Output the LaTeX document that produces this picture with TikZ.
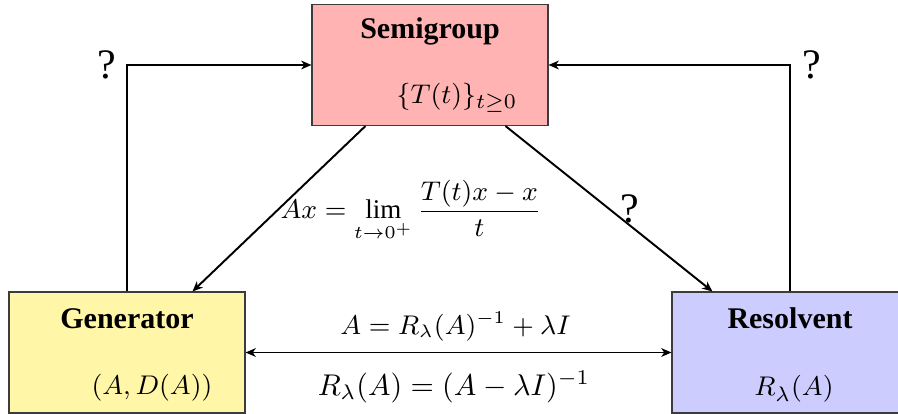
\documentclass[tikz,border=0pt]{standalone}
\usepackage{fontspec}
\setmainfont{Liberation Serif}
\usetikzlibrary{arrows.meta,calc}
\definecolor{sgcol}{RGB}{255,179,179}
\definecolor{gencol}{RGB}{255,246,168}
\definecolor{rescol}{RGB}{204,204,255}
\definecolor{bordcol}{RGB}{60,60,60}
\begin{document}
\begin{tikzpicture}[x=0.33333pt,y=-0.33333pt,
  box/.style={draw=bordcol,line width=0.35pt,minimum width=78.67pt,minimum height=40.33pt,inner sep=0pt},
  boxtitle/.style={font=\bfseries,inner sep=0pt},
  mathtxt/.style={inner sep=0pt,font=\fontsize{#1}{11}\selectfont},
  mathtxt/.default=9.2,
  qmark/.style={font=\fontsize{14}{16}\selectfont,inner sep=0pt},
  tip/.tip={Stealth[length=3.4pt,width=2.9pt,inset=1pt]},
  conn/.style={line width=0.65pt,-tip},
  conn2/.style={line width=0.65pt,tip-tip}]
\useasboundingbox (0,0) rectangle (898,414);
\clip (0,0) rectangle (898,414);
% boxes
\node[box,fill=sgcol] (sg) at (430,65) {};
\node[box,fill=gencol] (gen) at (127,352.5) {};
\node[box,fill=rescol] (res) at (790,352.5) {};
% texts in boxes
\node[boxtitle] (sgt) at (430,31) {Semigroup};
\node[mathtxt=9.5] (sgm) at (457,98) {$\{T(t)\}_{t\geq 0}$};
\node[boxtitle] (gent) at (127,318.5) {Generator};
\node[mathtxt=9] (genm) at (152,388) {$(A,D(A))$};
\node[boxtitle] (rest) at (790,318.5) {Resolvent};
\node[mathtxt=9.3] (resm) at (794,389) {$R_\lambda(A)$};
% corner points of diagonals
\coordinate (d1s) at ($(sg.south west)+(54,0)$);
\coordinate (d1e) at ($(gen.north west)+(184,0)$);
\coordinate (d2s) at ($(sg.south west)+(194,0)$);
\coordinate (d2e) at ($(res.north west)+(41,0)$);
% connectors
\draw[conn] (gen.north) |- (sg.west);
\draw[conn] (res.north) |- (sg.east);
\draw[conn] (d1s) -- (d1e);
\draw[conn] (d2s) -- (d2e);
\draw[conn2] (gen.east) -- node[midway,xshift=-1pt,yshift=8.7pt,mathtxt=8.9] (lab1) {$A=R_\lambda(A)^{-1}+\lambda I$}
  node[midway,xshift=-1.5pt,yshift=-11.5pt,mathtxt=9.6] (lab2) {$R_\lambda(A)=(A-\lambda I)^{-1}$} (res.west);
% labels
\node[mathtxt=9] (lim) at (411,211) {$\displaystyle Ax=\lim_{t\to 0^+}\frac{T(t)x-x}{t}$};
\node[qmark] (q1) at (107,65) {?};
\node[qmark] (q2) at (812,65) {?};
\node[qmark] (q3) at (630,209) {?};
\end{tikzpicture}
\end{document}
